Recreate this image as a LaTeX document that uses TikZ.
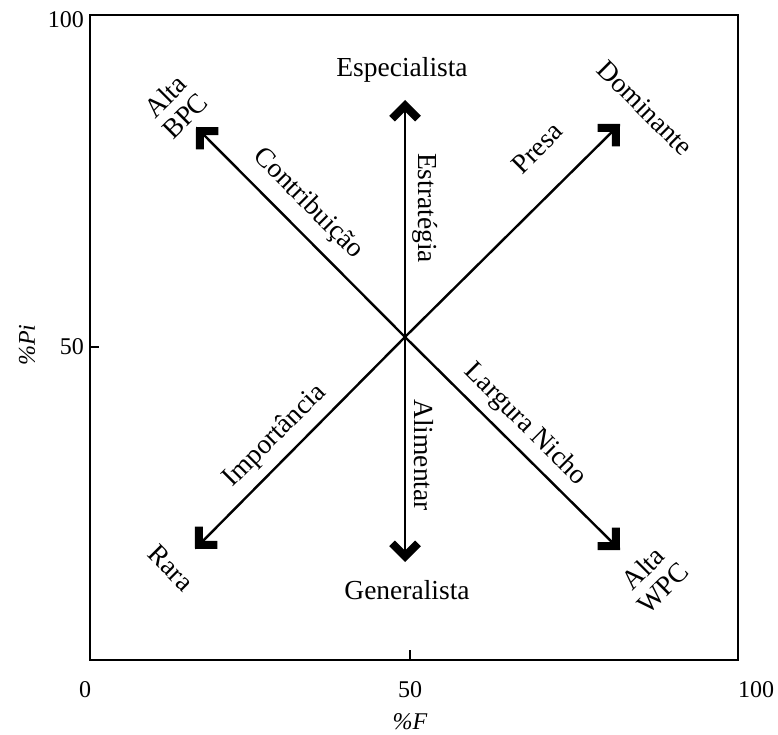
\documentclass[tikz,border=0pt]{standalone}
\usepackage{fontspec}
\setmainfont{Liberation Serif}
\usetikzlibrary{arrows.meta}
\tikzset{axisarr/.style={line width=2.4pt, -{Straight Barb[length=13pt, width=26pt, line width=8pt]}}}
\tikzset{lbl/.style={font=\fontsize{27.5}{28}\selectfont, inner sep=0pt, align=center}}
\tikzset{tick/.style={font=\fontsize{24}{28}\selectfont, inner sep=0pt}}

\begin{document}
\begin{tikzpicture}[x=1pt,y=-1pt]
\useasboundingbox (0,0) rectangle (778,735);
\draw[line width=1.8pt] (90,15) rectangle (738,660);
\draw[line width=1.8pt] (410,660) -- (410,650);
\draw[line width=1.8pt] (90,347) -- (99,347);
\node[tick, anchor=east] (y100) at (84,20) {100};
\node[tick, anchor=east] (y50) at (84,347) {50};
\node[tick] (x0) at (85,690) {0};
\node[tick] (x50) at (410,690) {50};
\node[tick] (x100) at (756,690) {100};
\node[tick, font=\fontsize{24}{28}\selectfont\itshape] (xlab) at (410,722) {\%F};
\node[tick, font=\fontsize{24}{28}\selectfont\itshape, rotate=90] (ylab) at (27,345) {\%Pi};
\coordinate (c) at (405,337);
\coordinate (tn) at (405,100);
\coordinate (ts) at (405,562);
\coordinate (tnw) at (196,127);
\coordinate (tne) at (620,124);
\coordinate (tsw) at (195,549);
\coordinate (tse) at (620,550);
\draw[axisarr] (c) -- (tn);
\draw[axisarr] (c) -- (ts);
\draw[axisarr] (c) -- (tnw);
\draw[axisarr] (c) -- (tne);
\draw[axisarr] (c) -- (tsw);
\draw[axisarr] (c) -- (tse);
\node[lbl] (esp) at (402,70) {Especialista};
\node[lbl] (gen) at (407,590) {Generalista};
\node[lbl, rotate=45] (bpc) at (175,106) {Alta\\BPC};
\node[lbl, rotate=-45] (dom) at (645,108) {Dominante};
\node[lbl, rotate=-45] (rara) at (171,568) {Rara};
\node[lbl, rotate=45] (wpc) at (653,578) {Alta\\WPC};
\node[lbl, rotate=-45] (contr) at (308,204) {Contribuição};
\node[lbl, rotate=-90] (estr) at (425,208) {Estratégia};
\node[lbl, rotate=45] (presa) at (537,148) {Presa};
\node[lbl, rotate=45] (imp) at (275,436) {Importância};
\node[lbl, rotate=-90] (alim) at (424,455) {Alimentar};
\node[lbl, rotate=-45] (larg) at (525,425) {Largura Nicho};
\end{tikzpicture}
\end{document}
